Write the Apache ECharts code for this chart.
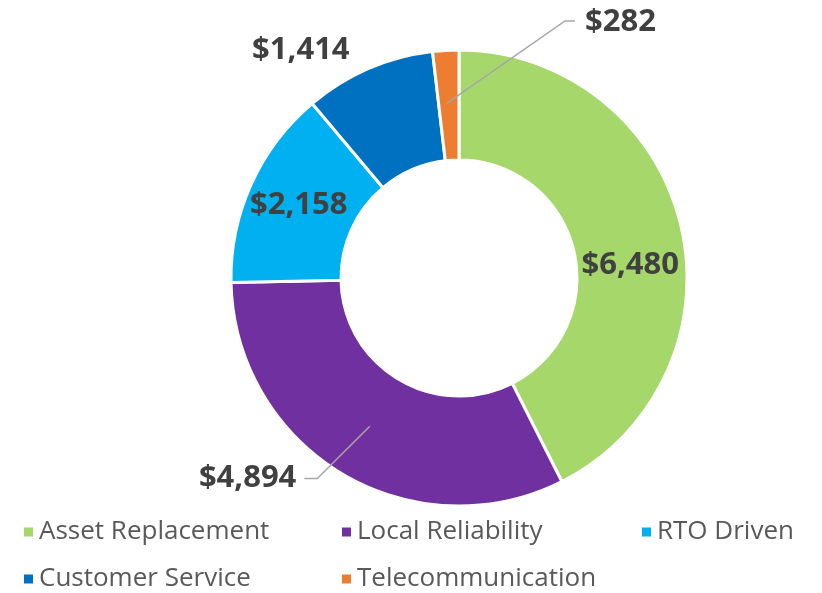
<!DOCTYPE html>
<html>
<head>
<meta charset="utf-8">
<script src="https://cdn.jsdelivr.net/npm/echarts@6/dist/echarts.min.js"></script>
<style>
  html, body { margin: 0; padding: 0; background: #fff; }
  #chartBox { width: 822px; height: 593px; }
</style>
</head>
<body>
<div id="chartBox"></div>
<script>
var categories = ["Asset Replacement", "Local Reliability", "RTO Driven", "Customer Service", "Telecommunication"];
var values = [6480, 4894, 2158, 1414, 282];
var colors = ["#A5D76B", "#7030A0", "#00B0F0", "#0070C0", "#ED7D31"];

var pieCenter = [459, 278];
var pieRadius = [118, 228];

// legend grid: [left, top] for each category entry
var legendSlots = [[22, 519], [340, 519], [640, 519], [22, 566], [340, 566]];

var labelSettings = [
  { label: { position: "inside" } },
  { label: { position: "outside" }, labelLine: { show: true, length: 6, length2: 34 } },
  { label: { position: "inside" } },
  { label: { position: "outside" }, labelLine: { show: false, length: 20, length2: 3 } },
  { label: { position: "outside" }, labelLine: { show: true, length: 10, length2: 10 } }
];

// coloured slices
var sliceData = categories.map(function (name, i) {
  return { name: name, value: values[i], itemStyle: { color: colors[i] } };
});

// same slices, invisible, only carrying the value labels so that
// leader lines are painted above the coloured ring
var labelData = categories.map(function (name, i) {
  var item = { name: name, value: values[i] };
  item.label = labelSettings[i].label;
  if (labelSettings[i].labelLine) item.labelLine = labelSettings[i].labelLine;
  return item;
});

var legends = categories.map(function (name, i) {
  return {
    data: [name],
    left: legendSlots[i][0],
    top: legendSlots[i][1],
    padding: 0,
    itemGap: 0,
    itemWidth: 11,
    itemHeight: 11,
    icon: "rect",
    textStyle: { color: "#595959", fontSize: 26, fontFamily: "Open Sans" }
  };
});

var chart = echarts.init(document.getElementById("chartBox"));
var option = {
  animation: false,
  textStyle: { fontFamily: "Open Sans" },
  legend: legends,
  series: [
    {
      type: "pie",
      z: 2,
      center: pieCenter,
      radius: pieRadius,
      startAngle: 90,
      clockwise: true,
      itemStyle: { borderColor: "#ffffff", borderWidth: 3 },
      label: { show: false },
      labelLine: { show: false },
      emphasis: { disabled: true },
      data: sliceData
    },
    {
      type: "pie",
      z: 3,
      silent: true,
      center: pieCenter,
      radius: pieRadius,
      startAngle: 90,
      clockwise: true,
      avoidLabelOverlap: false,
      itemStyle: { color: "rgba(0,0,0,0)", borderWidth: 0 },
      label: {
        show: true,
        color: "#404040",
        fontSize: 31,
        fontWeight: "bold",
        fontFamily: "Open Sans",
        distanceToLabelLine: 8,
        formatter: function (p) {
          return "$" + p.value.toLocaleString("en-US");
        }
      },
      labelLine: {
        lineStyle: { color: "#A6A6A6", width: 1.5 }
      },
      labelLayout: function (params) {
        if (params.dataIndex === 0) {
          return { dy: 28 };
        }
        if (params.dataIndex === 1 && params.labelLinePoints) {
          // pull the leader line start into the middle of the ring
          var pts = params.labelLinePoints;
          var k = (pieRadius[0] + pieRadius[1]) / 2 / pieRadius[1];
          var start = [
            pieCenter[0] + (pts[0][0] - pieCenter[0]) * k,
            pieCenter[1] + (pts[0][1] - pieCenter[1]) * k
          ];
          return {
            labelLinePoints: [start, [pts[2][0] + 13, pts[2][1]], pts[2]]
          };
        }
        if (params.dataIndex === 4) {
          // Telecommunication label sits up and to the right of its thin slice,
          // leader line starts in the middle of the slice
          var r = params.rect;
          var lx = r.x + r.width + 126;
          var ly = 22;
          return {
            x: lx,
            y: ly,
            align: "left",
            verticalAlign: "middle",
            labelLinePoints: [
              [r.x + r.width / 2 + 1, r.y + r.height / 2 - 2],
              [lx - 20, ly - 1],
              [lx - 10, ly - 1]
            ]
          };
        }
        return {};
      },
      emphasis: { disabled: true },
      data: labelData
    }
  ]
};
chart.setOption(option);
</script>
</body>
</html>
